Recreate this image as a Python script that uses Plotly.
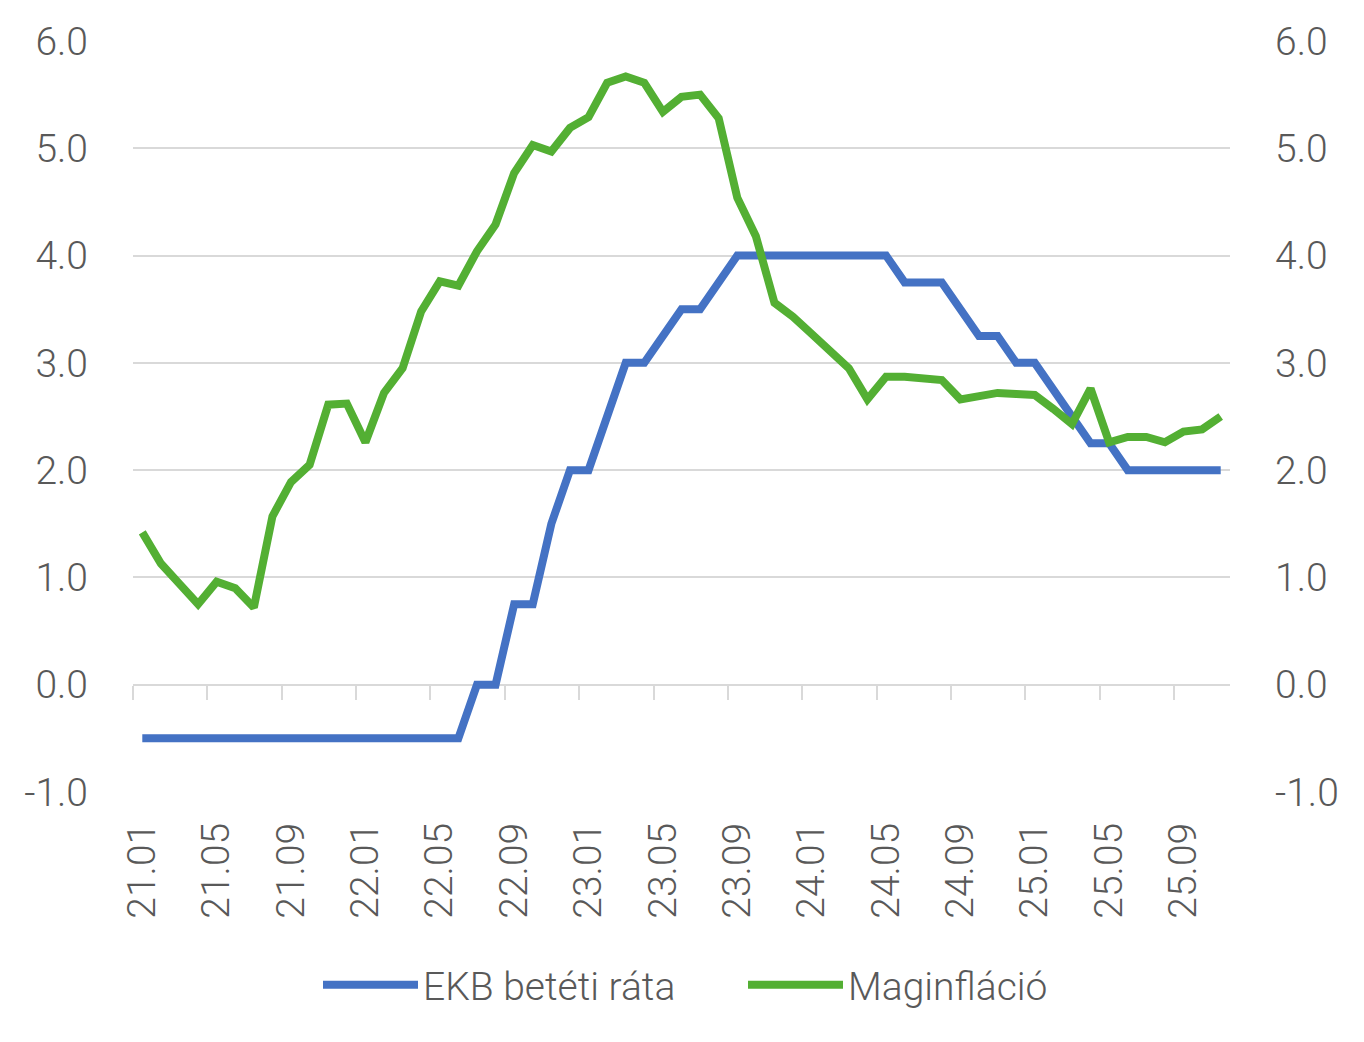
import plotly.graph_objects as go

years = ["21", "22", "23", "24", "25"]
months = ["01", "02", "03", "04", "05", "06", "07", "08", "09", "10", "11", "12"]
periods = [f"{y}.{m}" for y in years for m in months][:59]  # 21.01 .. 25.11

ekb_rate = [-0.5] * 18 + [0.0, 0.0, 0.75, 0.75, 1.5, 2.0, 2.0, 2.5, 3.0, 3.0, 3.25, 3.5, 3.5, 3.75] \
    + [4.0] * 9 + [3.75, 3.75, 3.75, 3.5, 3.25, 3.25, 3.0, 3.0, 2.75, 2.5, 2.25, 2.25] + [2.0] * 6

core_infl = [1.42, 1.13, 0.94, 0.75, 0.96, 0.90, 0.72, 1.57, 1.89, 2.05,
             2.61, 2.62, 2.26, 2.72, 2.95, 3.48, 3.76, 3.72, 4.04, 4.29,
             4.77, 5.03, 4.97, 5.19, 5.29, 5.61, 5.67, 5.61, 5.34, 5.48,
             5.50, 5.28, 4.54, 4.18, 3.56, 3.43, 3.27, 3.10, 2.95, 2.66,
             2.87, 2.87, 2.86, 2.84, 2.66, 2.69, 2.72, 2.71, 2.70, 2.57,
             2.43, 2.76, 2.26, 2.31, 2.31, 2.26, 2.36, 2.38, 2.50]

y_ticks = [-1, 0, 1, 2, 3, 4, 5, 6]

idx = list(range(len(periods)))
label_idx = idx[::4]
boundary_ticks = [i - 0.5 for i in label_idx]

BLUE = "#4472C4"
GREEN = "#53AF33"
GRID = "#D9D9D9"
TXT = "#595959"
FONT = "Roboto"
FS = 39
tf = dict(family=FONT, size=FS, color=TXT, weight=300)

fig = go.Figure()
fig.add_trace(go.Scatter(x=idx, y=ekb_rate, name="EKB betéti ráta", mode="lines",
                         line=dict(color=BLUE, width=8), xaxis="x", yaxis="y"))
fig.add_trace(go.Scatter(x=idx, y=core_infl, name="Maginfláció", mode="lines",
                         line=dict(color=GREEN, width=8), xaxis="x2", yaxis="y2"))

xr = [-0.5, len(periods) - 0.5]
yr = [-1, 6]

fig.update_layout(
    width=1364, height=1042,
    margin=dict(l=133, r=134, t=41, b=250),
    paper_bgcolor="white", plot_bgcolor="white",
    font=tf,
    showlegend=True,
    legend=dict(orientation="h", x=(318 - 133) / 1097, xanchor="left", y=-0.257, yanchor="middle",
                font=tf, itemwidth=95, traceorder="normal",
                entrywidth=315, entrywidthmode="pixels"),
    # category axis crossing at zero: line + boundary tick marks
    xaxis=dict(range=xr, anchor="free", position=1/7,
               tickmode="array", tickvals=boundary_ticks, showticklabels=False,
               ticks="outside", ticklen=14, tickwidth=2, tickcolor=GRID,
               showline=True, linecolor=GRID, linewidth=2, layer="below traces",
               showgrid=False, zeroline=False),
    # category labels at the bottom of the plot
    xaxis2=dict(range=xr, overlaying="x", anchor="free", position=0, side="bottom",
                tickmode="array", tickvals=label_idx,
                ticktext=[periods[i] for i in label_idx], tickangle=-90,
                showgrid=False, zeroline=False, showline=False, ticks="",
                ticklabelstandoff=22, tickfont=tf),
    yaxis=dict(range=yr, tickmode="array", tickvals=y_ticks,
               ticktext=[f"{v:.1f}" for v in y_ticks],
               showgrid=True, gridcolor=GRID, gridwidth=2, zeroline=False,
               showline=False, ticks="", ticklabelstandoff=44, tickfont=tf),
    yaxis2=dict(range=yr, overlaying="y", side="right", tickmode="array", tickvals=y_ticks,
                ticktext=[f"{v:.1f}" for v in y_ticks],
                showgrid=False, zeroline=False, showline=False, ticks="",
                ticklabelstandoff=44, tickfont=tf),
)

fig.write_html("out.html")
